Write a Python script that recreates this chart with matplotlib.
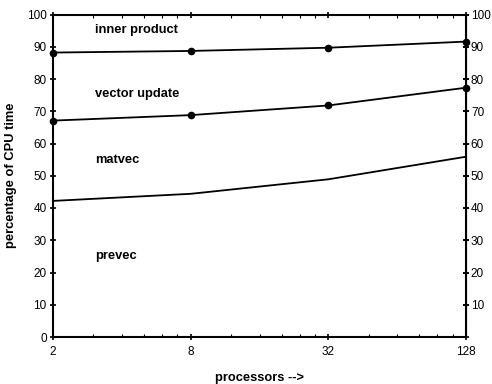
import matplotlib
matplotlib.use("Agg")
import matplotlib.pyplot as plt
from matplotlib.ticker import FixedLocator, NullFormatter

plt.rcParams['font.family'] = ['Liberation Sans', 'DejaVu Sans']

processors = [2, 8, 32, 128]
x_ticklabels = ["2", "8", "32", "128"]
# cumulative boundaries (percentage of CPU time)
matvec_top = [42.2, 44.4, 48.9, 55.9]        # prevec | matvec boundary
vecupd_bottom = [67.1, 68.8, 71.8, 77.3]     # matvec | vector update boundary
inner_bottom = [88.2, 88.7, 89.7, 91.6]      # vector update | inner product boundary
region_labels = ["inner product", "vector update", "matvec", "prevec"]
region_label_y = [95.3, 75.2, 55.0, 25.0]

fig = plt.figure(figsize=(4.92, 3.84), dpi=100)
ax = fig.add_axes([53/492, 1-337/384, (466-53)/492, (337-14.5)/384])

ax.plot(processors, matvec_top, color='black', lw=1.3, clip_on=False)
ax.plot(processors, vecupd_bottom, color='black', lw=1.3, marker='o', ms=4.5, clip_on=False)
ax.plot(processors, inner_bottom, color='black', lw=1.3, marker='o', ms=4.5, clip_on=False)

for lab, yv in zip(region_labels, region_label_y):
    ax.text(3.05, yv, lab, fontsize=9.3, fontweight='bold', ha='left', va='center')

ax.set_xscale('log', base=2)
ax.set_xlim(2, 128)
ax.set_ylim(0, 100)
ax.xaxis.set_major_locator(FixedLocator(processors))
ax.set_xticklabels(x_ticklabels)
ax.xaxis.set_minor_locator(FixedLocator([3, 4, 5, 6, 7, 12, 16, 20, 24, 28, 48, 64, 80, 96, 112]))
ax.xaxis.set_minor_formatter(NullFormatter())
ax.set_yticks(range(0, 101, 10))

ax.tick_params(axis='both', which='major', direction='inout', length=5, width=1.2,
               labelsize=8.5, top=True, right=True, labelright=False)
ax.tick_params(axis='x', which='minor', direction='in', length=2, width=0.8, top=True)
ax.tick_params(axis='x', which='major', pad=4)
ax.tick_params(axis='y', which='major', pad=2)

# right labels without 0
ax2 = ax.secondary_yaxis('right')
ax2.set_yticks(range(10, 101, 10))
ax2.tick_params(direction='inout', length=5, width=1.2, labelsize=8.5, pad=1)

for s in ax.spines.values():
    s.set_linewidth(1.5)

ax.set_ylabel("percentage of CPU time", fontsize=9.3, fontweight='bold', labelpad=7)
ax.set_xlabel("processors -->", fontsize=9.3, fontweight='bold', labelpad=10)

fig.savefig("out.png", dpi=100)
